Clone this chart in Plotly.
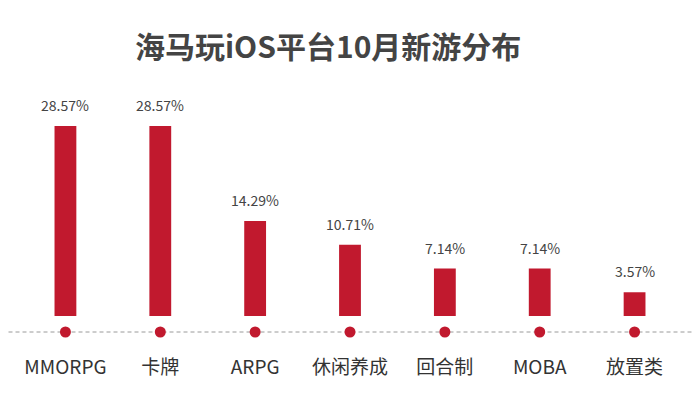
import plotly.graph_objects as go

categories = ["MMORPG", "卡牌", "ARPG", "休闲养成", "回合制", "MOBA", "放置类"]
values = [28.57, 28.57, 14.29, 10.71, 7.14, 7.14, 3.57]
labels = ["28.57%", "28.57%", "14.29%", "10.71%", "7.14%", "7.14%", "3.57%"]
title_text = "海马玩iOS平台10月新游分布"

RED = "#C1192E"
FONT = "Noto Sans CJK SC"

# page body has an 8px margin, so the figure is offset by 8px
OFF = 8
W, H = 700 - 2 * OFF, 420 - 2 * OFF
ml, mr, mt, mb = 17.5 - OFF, 17.5 + OFF, 80 - OFF, 72 - OFF
mr = W - ml - 665
plot_h = H - mt - mb
band = 32 / plot_h
dom_w = W - ml - mr

fig = go.Figure()
fig.add_trace(go.Bar(
    x=categories, y=values, width=0.23,
    marker=dict(color=RED, line=dict(width=0)),
    hoverinfo="skip", xaxis="x", yaxis="y",
))
fig.add_trace(go.Scatter(
    x=categories, y=[0] * len(categories), mode="markers",
    marker=dict(color=RED, size=11, line=dict(width=0)),
    cliponaxis=False, hoverinfo="skip", xaxis="x", yaxis="y2",
))

for c, v, t in zip(categories, values, labels):
    fig.add_annotation(x=c, y=v, xref="x", yref="y", text=t, showarrow=False,
                       yshift=21, font=dict(family=FONT, size=14, color="#444"))

fig.add_shape(type="line", xref="paper", yref="y2",
              x0=-ml / dom_w, x1=(W - ml) / dom_w, y0=0, y1=0,
              line=dict(color="#9a9a9a", width=1, dash="4px,3px"), layer="below")

fig.add_annotation(text="<b>" + title_text + "</b>", xref="paper", yref="paper",
                   x=(328 - OFF - ml) / dom_w, y=1 + (80 - 45) / plot_h,
                   showarrow=False, xanchor="center", yanchor="middle",
                   font=dict(family=FONT, size=30, color="#444"))

fig.update_layout(
    width=W, height=H,
    margin=dict(l=ml, r=mr, t=mt, b=mb, pad=0),
    paper_bgcolor="white", plot_bgcolor="white",
    showlegend=False,
    xaxis=dict(type="category", range=[-0.5, 6.5], anchor="y2",
               showgrid=False, zeroline=False, showline=False,
               ticks="outside", ticklen=2, tickcolor="rgba(0,0,0,0)",
               tickfont=dict(family=FONT, size=19, color="#333"), fixedrange=True),
    yaxis=dict(domain=[band, 1], range=[0, 35.49], visible=False, fixedrange=True),
    yaxis2=dict(domain=[0, band], range=[-1, 1], visible=False, fixedrange=True),
)

fig.write_html("out.html")
